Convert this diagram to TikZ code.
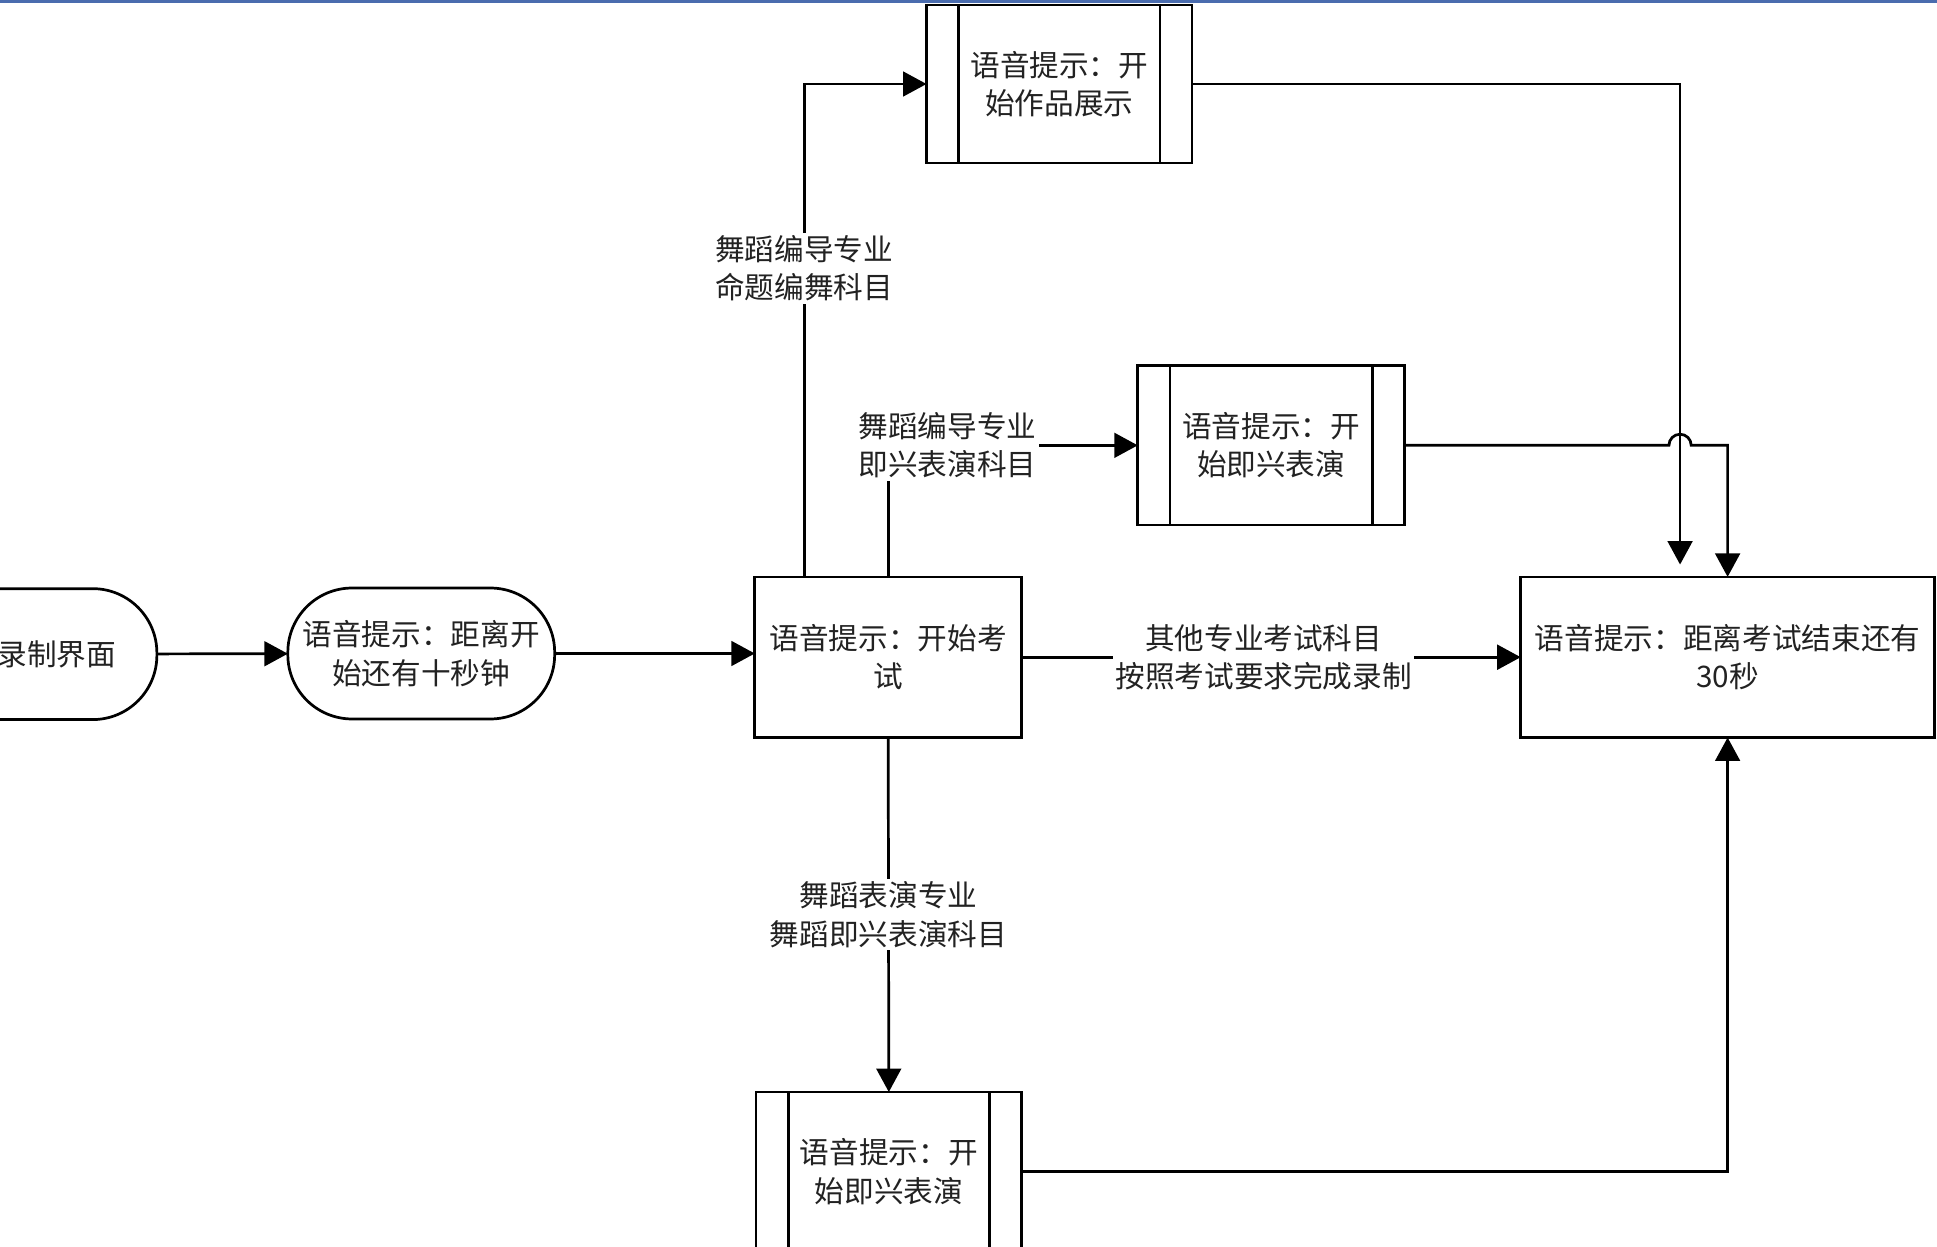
\documentclass[tikz,border=0pt]{standalone}
\usepackage{fontspec}
\newfontfamily\cjk{Noto Sans CJK SC}
\usetikzlibrary{arrows.meta,calc}
\definecolor{txt}{HTML}{222222}
\definecolor{band}{HTML}{4A6CAE}
\begin{document}
\begin{tikzpicture}[x=1pt,y=-1pt,
  every node/.style={font=\cjk\fontsize{24}{31}\selectfont, text=txt, outer sep=0pt, align=center},
  box/.style={draw, line width=2.2pt, rectangle, minimum width=216pt, minimum height=130pt, inner sep=0pt},
  term/.style={draw, line width=2.2pt, rectangle, rounded corners=52pt, minimum width=216pt, minimum height=106pt, inner sep=0pt},
  lbl/.style={fill=white, inner sep=2pt},
  arr/.style={line width=2.2pt, -{Triangle[length=19pt,width=20pt]}},
  ln/.style={line width=2.2pt}]
\useasboundingbox (0,0) rectangle (1568,1009);

% nodes
\node[term] (start) at (19,529.5) {\hspace*{54pt}录制界面};
\node[term] (t2) at (341,529) {语音提示：距离开\\始还有十秒钟};
\node[box] (exam) at (719,532) {语音提示：开始考\\试};
\node[box, minimum width=215pt, minimum height=128pt] (show) at (857.5,68) {语音提示：开\\始作品展示};
\node[box, minimum height=129pt] (imp1) at (1029,360.5) {语音提示：开\\始即兴表演};
\node[box, minimum width=335pt] (endbox) at (1398.5,532) {语音提示：距离考试结束还有\\30秒};
\node[box, minimum width=215pt, minimum height=129pt] (imp2) at (719.5,948.5) {语音提示：开\\始即兴表演};

\foreach \n in {show,imp1,imp2}{
  \draw[ln] ([xshift=26pt]\n.north west) -- ([xshift=26pt]\n.south west);
  \draw[ln] ([xshift=-26pt]\n.north east) -- ([xshift=-26pt]\n.south east);
}

\coordinate (jtop) at ([xshift=-38.5pt]endbox.north);
\coordinate (jx) at (jtop |- imp1.east);

% connectors
\draw[arr] (start) -- (t2);
\draw[arr] (t2.east) -- (exam.west |- t2.east);
\draw[arr] ([xshift=-68pt]exam.north) |- node[lbl,pos=0.313]{舞蹈编导专业\\命题编舞科目} (show.west);
\draw[arr] (exam.north) |- node[lbl,pos=0.619]{舞蹈编导专业\\即兴表演科目} (imp1.west);
\draw[arr] (exam.east) -- node[lbl,pos=0.485]{其他专业考试科目\\按照考试要求完成录制} (endbox.west |- exam.east);
\draw[arr] (exam.south) -- node[lbl,pos=0.5]{舞蹈表演专业\\舞蹈即兴表演科目} (imp2.north);
\draw[arr] (imp2.east) -| (endbox.south);
\draw[arr, shorten >=10pt] (show.east) -| (jtop);
\draw[arr] (imp1.east) -- ([xshift=-9pt]jx) arc[start angle=180, end angle=0, radius=9pt] -- (endbox.north |- imp1.east) -- (endbox.north);

\fill[band] (0,0) rectangle (1568,2.5);
\end{tikzpicture}
\end{document}
